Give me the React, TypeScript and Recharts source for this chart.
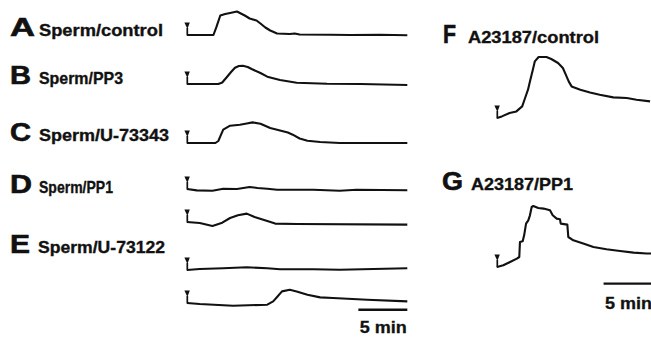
import React from 'react';
import { LineChart, Line, XAxis, YAxis, ReferenceDot, ReferenceLine } from 'recharts';

// ---- Trace data: time (min) and relative Ca2+ signal (a.u.) ----
const tA = [0, 2.7, 3.0, 3.4, 3.9, 4.4, 5.1, 5.9, 6.4, 7.1, 7.5, 8.0, 8.5, 9.2, 10.5, 11.0, 11.5, 14.6, 16.7, 19.7, 22.5];
const vA = [0, 0, 7.8, 19.5, 21, 22, 23.5, 19.5, 16.5, 14.5, 11.5, 7.5, 4.5, 1.5, 1, 1.5, 0.5, 0.3, 0, 0.2, -0.3];

const tB = [0, 3.2, 3.6, 4.1, 4.5, 4.9, 5.3, 5.7, 6.2, 6.6, 7.5, 8.2, 9.5, 11.2, 14.3, 17.7, 22.5];
const vB = [0, 0, 1.5, 7.3, 12, 16.3, 18, 18.3, 17, 15, 11, 7.3, 4, 1.3, 0.3, 0, -1];

const tC = [0, 2.9, 3.2, 3.4, 3.7, 4.4, 5.4, 6.1, 6.7, 7.5, 8.5, 9.5, 10.3, 10.8, 11.5, 12.3, 13.6, 15.6, 22.5];
const vC = [0, 0, 2, 6.6, 13.3, 17.3, 18.3, 19.5, 20.6, 19.3, 15, 12.6, 10.5, 8.3, 4.5, 2.3, 1, 0, 0];

const tD1 = [0, 1.0, 2.6, 3.7, 5.1, 6.4, 7.2, 8.2, 9.2, 12.9, 15.6, 17.3, 22.5];
const vD1 = [0, -1.4, -1.7, 0.3, 0, 2, 1, 0.3, -0.7, -0.7, -1.7, -0.7, -1.2];

const tD2 = [0, 1.3, 2.6, 3.6, 4.4, 5.2, 6.1, 6.9, 8.2, 9.0, 11.2, 22.5];
const vD2 = [0, -1, -4, -0.7, 4, 6.7, 8.4, 5, 1, -1.6, -2, -2.6];

const tE1 = [0, 1.3, 3.7, 6.1, 8.2, 9.5, 12.9, 15.6, 22.5];
const vE1 = [0, 1, 1.7, 2.7, 1.7, 0.7, 0.7, 0.3, 1.7];

const tE2 = [0, 1.3, 4.7, 8.2, 8.8, 9.2, 9.7, 10.5, 11.2, 12.3, 13.6, 14.9, 18.4, 22.5];
const vE2 = [0, -1, -2.7, -1.7, 1.6, 6, 11.6, 13.3, 11.6, 8.3, 5.6, 5, 3.3, 1.6];

const tF = [0, 0.5, 1.3, 2.0, 2.6, 2.9, 3.2, 3.4, 3.7, 3.9, 4.3, 5.1, 5.6, 6.3, 6.8, 7.1, 7.4, 7.7, 8.6, 9.6, 10.6, 12.0, 13.4, 14.4, 15.8];
const vF = [0, 1.6, 5, 6.6, 11.6, 20, 28.3, 36.6, 48.3, 56.6, 61, 61, 59, 55, 50, 43.3, 36.6, 31.6, 28.3, 25.6, 23.3, 20.6, 20, 18.3, 16.6];

const tG = [0, 0.65, 1.35, 2.05, 2.3, 2.37, 2.65, 2.8, 3.0, 3.23, 3.4, 3.58, 3.75, 4.26, 4.8, 5.47, 5.75, 6.16, 6.5, 6.58, 7.26, 7.36, 7.88, 8.9, 9.95, 11.3, 12.7, 14.1, 15.45, 15.9];
const vG = [0, 1.7, 5, 8.4, 10, 25, 25.7, 31.7, 43.4, 46.7, 51.7, 60, 61, 59, 58.4, 56.7, 51.7, 48.4, 47.7, 43.4, 42.4, 30, 26.7, 23.4, 20, 17.7, 16, 14.4, 13.5, 13.5];

// ---- Panel labels ----
const panelLetters = ['A', 'B', 'C', 'D', 'E', 'F', 'G'];
const panelTitles = ['Sperm/control', 'Sperm/PP3', 'Sperm/U-73343', 'Sperm/PP1', 'Sperm/U-73122', 'A23187/control', 'A23187/PP1'];
const scaleBarLabel = '5 min';
const scaleBarMinutes = 5;

const zip = (t: number[], v: number[]) => t.map((x, i) => ({ t: x, v: v[i] }));

// ---- Layout (pixels) ----
const PAD = 5;
const LEFT = { x: 187, width: 235, xDomain: [0, 24] as [number, number], yDomain: [-10, 30] as [number, number], height: 40 };
const RIGHT = { x: 497, width: 155, xDomain: [0, 16] as [number, number], yDomain: [-25, 75] as [number, number], height: 100 };

type Bar = { end: number; y: number; labelDy: number; labelWidth: number };
type TraceCfg = { key: string; data: { t: number; v: number }[]; side: typeof LEFT; baseline: number; bar?: Bar };

const traces: TraceCfg[] = [
  { key: 'A', data: zip(tA, vA), side: LEFT, baseline: 34.5 },
  { key: 'B', data: zip(tB, vB), side: LEFT, baseline: 84 },
  { key: 'C', data: zip(tC, vC), side: LEFT, baseline: 143.3 },
  { key: 'D1', data: zip(tD1, vD1), side: LEFT, baseline: 189.3 },
  { key: 'D2', data: zip(tD2, vD2), side: LEFT, baseline: 221.7 },
  { key: 'E1', data: zip(tE1, vE1), side: LEFT, baseline: 270 },
  { key: 'E2', data: zip(tE2, vE2), side: LEFT, baseline: 303.3, bar: { end: 22.5, y: -6.7, labelDy: 23, labelWidth: 47 } },
  { key: 'F', data: zip(tF, vF), side: RIGHT, baseline: 118.3 },
  { key: 'G', data: zip(tG, vG), side: RIGHT, baseline: 266.7, bar: { end: 16, y: -16.6, labelDy: 25.5, labelWidth: 47 } },
];

type TitleCfg = { lx: number; lw: number; tx: number; tw: number; base: number };
const titleLayout: TitleCfg[] = [
  { lx: 10, lw: 25, tx: 39, tw: 124, base: 35.5 },
  { lx: 10, lw: 21, tx: 39, tw: 84, base: 83.5 },
  { lx: 10, lw: 21, tx: 39, tw: 130, base: 140.5 },
  { lx: 10, lw: 22, tx: 39, tw: 74, base: 192.5 },
  { lx: 10, lw: 20, tx: 38, tw: 127, base: 253 },
  { lx: 443, lw: 13, tx: 468, tw: 131, base: 42.5 },
  { lx: 442, lw: 21, tx: 471, tw: 102, base: 189.5 },
];

const INK = '#111';
const FONT = '"Liberation Sans", Arial, Helvetica, sans-serif';

const Arrow = (props: any) => {
  const { cx, cy } = props;
  if (cx == null || cy == null) return null;
  return (
    <g>
      <path d={`M${cx - 2.6},${cy - 12.5} L${cx + 2.8},${cy - 12.5} L${cx + 0.4},${cy - 6} Z`} fill={INK} />
      <line x1={cx + 0.3} y1={cy - 7} x2={cx + 0.3} y2={cy + 0.5} stroke={INK} strokeWidth={1.7} />
    </g>
  );
};

function TraceChart({ cfg }: { cfg: TraceCfg }) {
  const s = cfg.side;
  const top = cfg.baseline - s.yDomain[1] - PAD;
  const bar = cfg.bar;
  const extra = bar ? 34 : 0;
  const w = s.width + 2 * PAD;
  const h = s.height + 2 * PAD + extra;
  return (
    <div style={{ position: 'absolute', left: s.x - PAD, top, width: w, height: h }}>
      <LineChart width={w} height={h} data={cfg.data} margin={{ top: PAD, right: PAD, bottom: PAD + extra, left: PAD }}>
        <XAxis type="number" dataKey="t" domain={s.xDomain} hide />
        <YAxis type="number" domain={s.yDomain} hide />
        <Line
          type="linear"
          dataKey="v"
          stroke={INK}
          strokeWidth={2.1}
          strokeLinejoin="round"
          dot={false}
          isAnimationActive={false}
        />
        <ReferenceDot x={cfg.data[0].t} y={cfg.data[0].v} shape={Arrow} />
        {bar && (
          <ReferenceLine
            segment={[
              { x: bar.end - scaleBarMinutes, y: bar.y },
              { x: bar.end, y: bar.y },
            ]}
            stroke={INK}
            strokeWidth={2.4}
            label={(p: any) => {
              const vb = p.viewBox || {};
              return (
                <text
                  x={vb.x + 1.5}
                  y={vb.y + bar.labelDy}
                  fontFamily={FONT}
                  fontWeight="bold"
                  fontSize={16}
                  fill={INK}
                  stroke={INK}
                  strokeWidth={0.3}
                  textLength={bar.labelWidth}
                  lengthAdjust="spacingAndGlyphs"
                >
                  {scaleBarLabel}
                </text>
              );
            }}
          />
        )}
      </LineChart>
    </div>
  );
}

export default function App() {
  return (
    <div style={{ position: 'absolute', left: 0, top: 0, width: 651, height: 341, background: '#fff', overflow: 'hidden' }}>
      <svg width={651} height={341} style={{ position: 'absolute', left: 0, top: 0 }}>
        {titleLayout.map((l, i) => (
          <g key={panelLetters[i]}>
            <text
              x={l.lx}
              y={l.base}
              fontFamily={FONT}
              fontWeight="900"
              fontSize={25}
              fill={INK}
              stroke={INK}
              strokeWidth={0.6}
              textLength={l.lw}
              lengthAdjust="spacingAndGlyphs"
            >
              {panelLetters[i]}
            </text>
            <text
              x={l.tx}
              y={l.base}
              fontFamily={FONT}
              fontWeight="bold"
              fontSize={17}
              fill={INK}
              stroke={INK}
              strokeWidth={0.35}
              textLength={l.tw}
              lengthAdjust="spacingAndGlyphs"
            >
              {panelTitles[i]}
            </text>
          </g>
        ))}
      </svg>
      {traces.map((c) => (
        <TraceChart key={c.key} cfg={c} />
      ))}
    </div>
  );
}
